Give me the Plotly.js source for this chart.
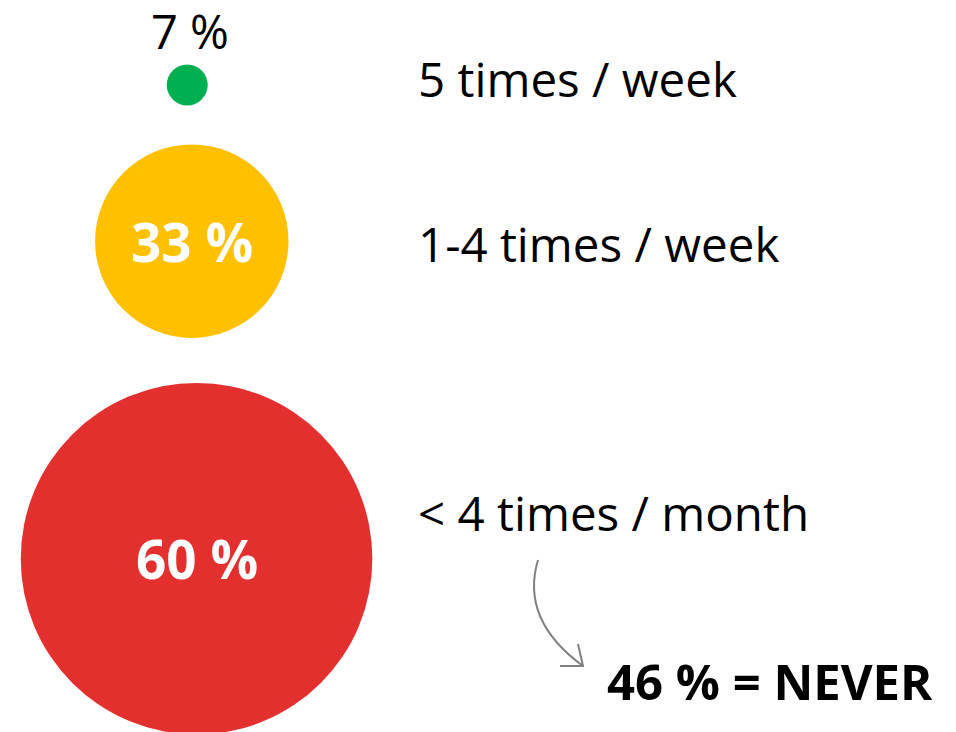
<!DOCTYPE html>
<html>
<head>
<meta charset="utf-8">
<script src="https://cdn.plot.ly/plotly-3.0.1.min.js"></script>
<style>html,body{margin:0;padding:0;background:#fff;}#chart{width:956px;height:732px;}</style>
</head>
<body>
<div id="chart"></div>
<script>
// ---- data ----
const categories = ["5 times / week", "1-4 times / week", "< 4 times / month"];
const shares = [7, 33, 60];
const shareLabels = ["7 %", "33 %", "60 %"];
const colors = ["#00b050", "#ffc000", "#e3302f"];
const neverShare = 46;
const neverLabel = "46 % = NEVER";

// ---- layout rules ----
const W = 956, H = 732;
const pxPerPct = 2.93;           // circle radius per percentage point
const firstCenterY = 85;
const gaps = [39, 45];
const radii = shares.map(v => v * pxPerPct);
const cy = [];
radii.forEach((r, i) => {
  if (i === 0) cy.push(firstCenterY);
  else cy.push(cy[i - 1] + radii[i - 1] + gaps[i - 1] + r);
});
const cx = radii.map(r => 186 + 0.06 * r);

const FONT = "Open Sans, Noto Sans, sans-serif";

const trace = {
  type: "scatter",
  mode: "markers",
  x: cx,
  y: cy,
  marker: {
    size: radii.map(r => 2 * r),
    sizemode: "diameter",
    color: colors,
    opacity: 1,
    line: {width: 0}
  },
  hoverinfo: "skip",
  cliponaxis: false
};

const annotations = [];
// percentage labels
shareLabels.forEach((t, i) => {
  const small = i === 0;
  annotations.push({
    x: cx[i] + (small ? 3 : 0),
    y: small ? cy[i] - radii[i] : cy[i],
    xref: "x", yref: "y",
    text: small ? t : "<b>" + t + "</b>",
    showarrow: false,
    xanchor: "center",
    yanchor: small ? "bottom" : "middle",
    borderpad: 0,
    font: {family: FONT, size: small ? 47 : 53, color: small ? "#000" : "#fff"}
  });
});
// category labels
const labelY = [78, 243, 512];
categories.forEach((c, i) => {
  annotations.push({
    x: 416, y: labelY[i], xref: "x", yref: "y",
    text: c, showarrow: false, xanchor: "left", yanchor: "middle",
    font: {family: FONT, size: 47.5, color: "#000"}
  });
});
annotations.push({
  x: 605, y: 681, xref: "x", yref: "y",
  text: "<b>" + neverLabel + "</b>", showarrow: false, xanchor: "left", yanchor: "middle",
  font: {family: FONT, size: 49, color: "#000"}
});

const layout = {
  width: W, height: H,
  margin: {l: 0, r: 0, t: 0, b: 0, pad: 0},
  paper_bgcolor: "#fff",
  plot_bgcolor: "#fff",
  showlegend: false,
  xaxis: {range: [0, W], visible: false, fixedrange: true},
  yaxis: {range: [H, 0], visible: false, fixedrange: true},
  annotations: annotations,
  shapes: [
    {type: "path", xref: "x", yref: "y",
     path: "M 538 560 Q 520 620 583 666",
     line: {color: "#808080", width: 2}},
    {type: "path", xref: "x", yref: "y",
     path: "M 578 644 L 583 666 L 560 666",
     line: {color: "#808080", width: 2}}
  ]
};

Plotly.newPlot("chart", [trace], layout, {displayModeBar: false, staticPlot: true});
</script>
</body>
</html>
